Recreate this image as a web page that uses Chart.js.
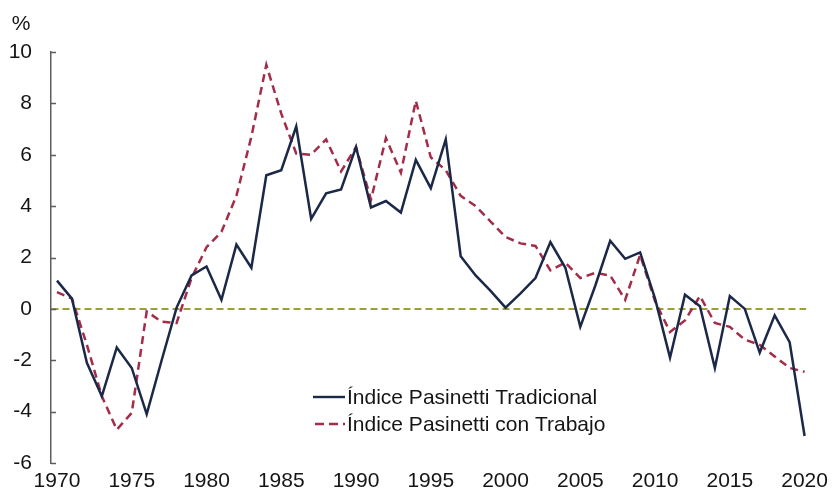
<!DOCTYPE html>
<html lang="es">
<head>
<meta charset="utf-8">
<script src="https://cdn.jsdelivr.net/npm/chart.js@4.4.1/dist/chart.umd.min.js"></script>
<style>
    html, body { margin: 0; padding: 0; background: #fff; }
    #wrap { width: 834px; height: 498px; position: relative; }
</style>
</head>
<body>
<div id="wrap"><canvas id="pasinettiChart" width="834" height="498"></canvas></div>
<script>
// --- DATA ---
const years = [
    1970, 1971, 1972, 1973, 1974, 1975, 1976, 1977, 1978, 1979,
    1980, 1981, 1982, 1983, 1984, 1985, 1986, 1987, 1988, 1989,
    1990, 1991, 1992, 1993, 1994, 1995, 1996, 1997, 1998, 1999,
    2000, 2001, 2002, 2003, 2004, 2005, 2006, 2007, 2008, 2009,
    2010, 2011, 2012, 2013, 2014, 2015, 2016, 2017, 2018, 2019, 2020
];
const tradicional = [
    1.1, 0.4, -2.1, -3.4, -1.5, -2.3, -4.1, -2.0, 0.05, 1.3,
    1.65, 0.35, 2.5, 1.6, 5.2, 5.4, 7.1, 3.5, 4.5, 4.65,
    6.3, 3.95, 4.2, 3.75, 5.8, 4.7, 6.6, 2.05, 1.3, 0.7,
    0.05, 0.6, 1.2, 2.6, 1.6, -0.7, 0.9, 2.65, 1.95, 2.2,
    0.4, -1.9, 0.55, 0.1, -2.3, 0.5, 0.0, -1.7, -0.25, -1.3, -4.95
];
const conTrabajo = [
    0.65, 0.4, -1.4, -3.4, -4.7, -4.05, -0.1, -0.5, -0.55, 1.2,
    2.4, 3.0, 4.4, 6.7, 9.5, 7.6, 6.05, 6.0, 6.6, 5.35,
    6.3, 4.25, 6.65, 5.3, 8.1, 5.9, 5.4, 4.4, 4.0, 3.4,
    2.8, 2.55, 2.45, 1.5, 1.8, 1.2, 1.4, 1.3, 0.35, 2.1,
    0.3, -0.9, -0.45, 0.5, -0.55, -0.7, -1.2, -1.4, -1.85, -2.3, -2.45
];
const xTicks = [1970, 1975, 1980, 1985, 1990, 1995, 2000, 2005, 2010, 2015, 2020];
const yTicks = [-6, -4, -2, 0, 2, 4, 6, 8, 10];
const seriesLabels = ['Índice Pasinetti Tradicional', 'Índice Pasinetti con Trabajo'];

// --- STYLE ---
const FONT = '"Liberation Sans", Arial, sans-serif';
const NAVY = '#1b2848';
const RED = '#a32d48';
const OLIVE = '#99a135';
const AXIS = '#5e5e5e';
const TEXT = '#151515';

const toPoints = arr => years.map((y, i) => ({ x: y, y: arr[i] }));

// inner tick stubs on the y axis, the "%" unit and the legend box
const extrasPlugin = {
    id: 'extras',
    afterDraw(chart) {
        const { ctx, chartArea, scales } = chart;
        const yScale = scales.y;
        ctx.save();
        ctx.strokeStyle = AXIS;
        ctx.lineWidth = 1.5;
        yTicks.forEach(v => {
            const py = Math.round(yScale.getPixelForValue(v)) + 0.5;
            ctx.beginPath();
            ctx.moveTo(chartArea.left, py);
            ctx.lineTo(chartArea.left + 5, py);
            ctx.stroke();
        });

        ctx.fillStyle = TEXT;
        ctx.font = '21px ' + FONT;
        ctx.textAlign = 'center';
        ctx.textBaseline = 'middle';
        ctx.fillText('%', 21, 24);

        // legend
        const rows = [
            { y: 397, color: NAVY, dash: [], from: 313, to: 345 },
            { y: 424, color: RED, dash: [9, 5], from: 315, to: 345 }
        ];
        ctx.textAlign = 'left';
        rows.forEach((r, i) => {
            ctx.strokeStyle = r.color;
            ctx.lineWidth = 2.4;
            ctx.setLineDash(r.dash);
            ctx.beginPath();
            ctx.moveTo(r.from, r.y);
            ctx.lineTo(r.to, r.y);
            ctx.stroke();
            ctx.setLineDash([]);
            ctx.fillStyle = TEXT;
            ctx.fillText(seriesLabels[i], 347, r.y + 1);
        });
        ctx.restore();
    }
};

new Chart(document.getElementById('pasinettiChart'), {
    type: 'line',
    data: {
        datasets: [
            {
                label: seriesLabels[0], data: toPoints(tradicional),
                borderColor: NAVY, borderWidth: 2.5, pointRadius: 0, tension: 0
            },
            {
                label: seriesLabels[1], data: toPoints(conTrabajo),
                borderColor: RED, borderWidth: 2.5, borderDash: [8, 5], pointRadius: 0, tension: 0
            }
        ]
    },
    options: {
        responsive: false,
        animation: false,
        layout: { padding: { top: 52, right: 25.5, bottom: 0, left: 0 } },
        plugins: { legend: { display: false }, tooltip: { enabled: false } },
        scales: {
            x: {
                type: 'linear', min: 1969.6, max: 2020.1,
                afterBuildTicks: s => { s.ticks = xTicks.map(v => ({ value: v })); },
                afterFit: s => { s.height = 35; },
                grid: { display: false, drawTicks: false },
                border: { display: false },
                ticks: {
                    color: TEXT, font: { family: FONT, size: 21 }, padding: 6,
                    maxRotation: 0, autoSkip: false, callback: v => String(v)
                }
            },
            y: {
                min: -6, max: 10,
                afterBuildTicks: s => { s.ticks = yTicks.map(v => ({ value: v })); },
                afterFit: s => { s.width = 51; },
                grid: {
                    drawTicks: false, lineWidth: 2,
                    color: c => (c.tick && c.tick.value === 0 ? OLIVE : 'transparent')
                },
                border: { display: true, color: AXIS, width: 1.5, dash: [7, 4] },
                ticks: { color: TEXT, font: { family: FONT, size: 21 }, padding: 19 }
            }
        }
    },
    plugins: [extrasPlugin]
});
</script>
</body>
</html>
